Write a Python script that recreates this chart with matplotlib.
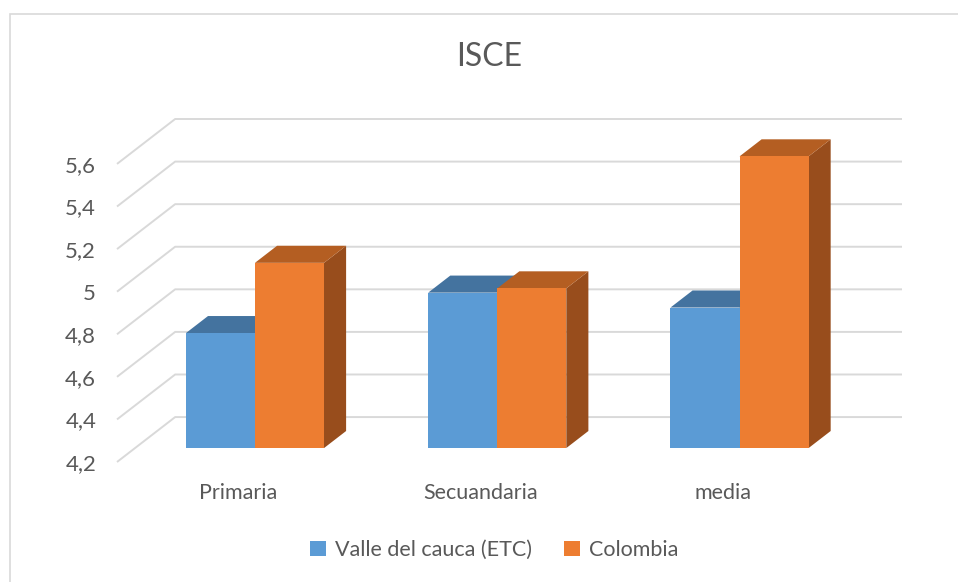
import matplotlib.pyplot as plt
from matplotlib.patches import Polygon, Patch, Rectangle
import numpy as np

plt.rcParams['font.family'] = ['Lato', 'DejaVu Sans']

categories = ["Primaria", "Secuandaria", "media"]
series_names = ["Valle del cauca (ETC)", "Colombia"]
valle = [4.74, 4.93, 4.86]
colombia = [5.07, 4.95, 5.57]
yticks = [4.2, 4.4, 4.6, 4.8, 5.0, 5.2, 5.4, 5.6]
ytick_labels = ["4,2", "4,4", "4,6", "4,8", "5", "5,2", "5,4", "5,6"]

# colours: front, top, side
cols = [("#5B9BD5", "#44739F", "#3B6790"),
        ("#ED7D31", "#B45E22", "#984D1C")]
grid_c = "#D9D9D9"
text_c = "#595959"

# oblique projection (depth 0..1)
DX, DY = 0.24, 0.211
ymin = 4.2
n = len(categories)


def proj(x, v, d):
    return (x + d * DX, v + d * DY)


fig = plt.figure(figsize=(9.58, 5.82), dpi=100)
W, H = 958, 582
ax = fig.add_axes([117 / W, (H - 462) / H, (902 - 117) / W, (462 - 119) / H])
ax.set_xlim(0, n + DX)
ax.set_ylim(ymin, 5.6 + DY)
for s in ax.spines.values():
    s.set_visible(False)

# walls gridlines
for v in yticks:
    p0 = proj(0, v, 0)
    p1 = proj(0, v, 1)
    p2 = proj(n, v, 1)
    ax.plot([p0[0], p1[0], p2[0]], [p0[1], p1[1], p2[1]], color=grid_c,
            lw=1.4, solid_capstyle='butt', zorder=1, clip_on=False)

# bars
d0, d1 = 0.31, 0.69
off, bw = 0.21, 0.285
for i in range(n):
    for k, vals in enumerate([valle, colombia]):
        v = vals[i]
        x0 = i + off + k * bw
        x1 = x0 + bw
        front, top, side = cols[k]
        front_pts = [proj(x0, ymin, d0), proj(x1, ymin, d0), proj(x1, v, d0), proj(x0, v, d0)]
        top_pts = [proj(x0, v, d0), proj(x1, v, d0), proj(x1, v, d1), proj(x0, v, d1)]
        side_pts = [proj(x1, ymin, d0), proj(x1, ymin, d1), proj(x1, v, d1), proj(x1, v, d0)]
        z = 2 + i * 2 + k
        ax.add_patch(Polygon(side_pts, closed=True, fc=side, ec='none', zorder=z))
        ax.add_patch(Polygon(top_pts, closed=True, fc=top, ec='none', zorder=z))
        ax.add_patch(Polygon(front_pts, closed=True, fc=front, ec='none', zorder=z))

ax.set_yticks(yticks)
ax.set_yticklabels(ytick_labels)
ax.set_xticks([i + 0.5 for i in range(n)])
ax.set_xticklabels(categories)
ax.tick_params(axis='y', length=0, pad=15, labelsize=16, labelcolor=text_c)
ax.tick_params(axis='x', length=0, pad=15, labelsize=15.5, labelcolor=text_c)

fig.text(489 / W, 1 - 57 / H, "ISCE", ha='center', va='center', fontsize=23,
         color=text_c)

handles = [Patch(facecolor=cols[k][0], edgecolor='none') for k in range(2)]
fig.legend(handles, series_names, loc='center', bbox_to_anchor=(494 / W, 1 - 550 / H),
           ncol=2, frameon=False, fontsize=15.5, labelcolor=text_c,
           handlelength=0.75, handleheight=0.75, handletextpad=0.4, columnspacing=1.5)

# chart border
fig.add_artist(Rectangle((10 / W, -0.1), 1.2, 1 - 13.5 / H + 0.1, transform=fig.transFigure,
                         fill=False, ec=grid_c, lw=1.2))

fig.savefig("out.png", dpi=100)
